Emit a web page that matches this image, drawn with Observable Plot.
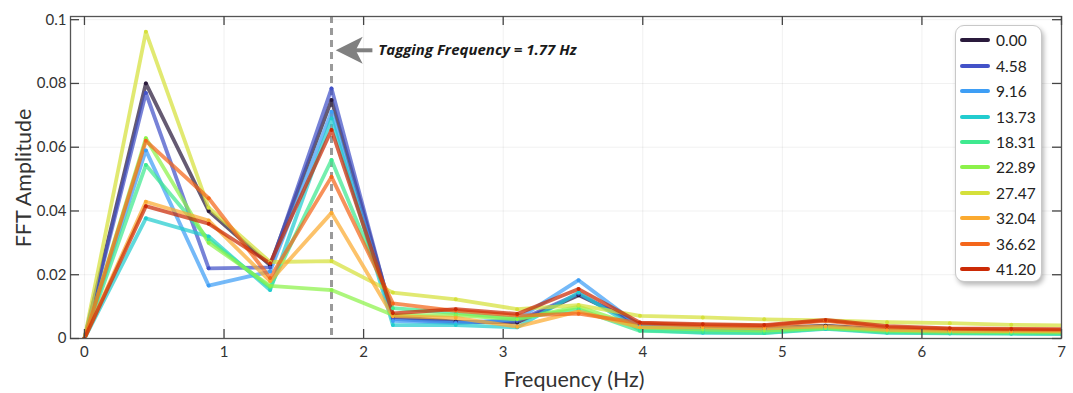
<!DOCTYPE html>
<html><head><meta charset="utf-8">
<script src="https://cdn.jsdelivr.net/npm/d3@7"></script>
<script src="https://cdn.jsdelivr.net/npm/@observablehq/plot@0.6"></script>
<style>
body{margin:0;background:#fff;}
#wrap{position:relative;width:1073px;height:393px;font-family:Lato,sans-serif;}
#legend{position:absolute;left:955px;top:25px;width:87px;height:257px;border:1px solid #c8c8c8;border-radius:9px;box-shadow:2px 3px 5px rgba(0,0,0,0.28);background:#fff;box-sizing:border-box;}
.row{position:absolute;left:0;height:20px;display:flex;align-items:center;}
.sw{width:30px;height:4px;margin-left:4px;border-radius:2px}
.lb{margin-left:6px;font-size:15.5px;color:#222}
.axl{position:absolute;font-size:21.5px;color:#333;white-space:nowrap;line-height:1;}
</style></head><body><div id="wrap"></div>
<script>
const freqs = [0, 0.44, 0.89, 1.33, 1.77, 2.21, 2.66, 3.10, 3.54, 3.98, 4.43, 4.87, 5.31, 5.75, 6.20, 6.64, 7.08];
const speeds = ["0.00","4.58","9.16","13.73","18.31","22.89","27.47","32.04","36.62","41.20"];
const colors = ["#2a1a3c","#4352c8","#3e9ef5","#22cccf","#3fe98f","#8cf24a","#d5e03a","#fbaa30","#f4661b","#cb2a06"];
const amp_000 = [0, 0.0800, 0.0400, 0.0230, 0.0748, 0.0068, 0.0053, 0.0050, 0.0136, 0.0045, 0.0035, 0.0032, 0.0040, 0.0028, 0.0025, 0.0024, 0.0023];
const amp_458 = [0, 0.0770, 0.0220, 0.0223, 0.0784, 0.0062, 0.0050, 0.0055, 0.0140, 0.0040, 0.0030, 0.0028, 0.0035, 0.0025, 0.0022, 0.0021, 0.0020];
const amp_916 = [0, 0.0590, 0.0166, 0.0210, 0.0711, 0.0055, 0.0048, 0.0060, 0.0183, 0.0038, 0.0028, 0.0026, 0.0033, 0.0024, 0.0021, 0.0020, 0.0019];
const amp_1373 = [0, 0.0377, 0.0320, 0.0152, 0.0690, 0.0042, 0.0042, 0.0035, 0.0144, 0.0026, 0.0018, 0.0017, 0.0030, 0.0018, 0.0016, 0.0015, 0.0014];
const amp_1831 = [0, 0.0544, 0.0310, 0.0160, 0.0560, 0.0095, 0.0080, 0.0063, 0.0092, 0.0024, 0.0020, 0.0018, 0.0032, 0.0019, 0.0017, 0.0016, 0.0015];
const amp_2289 = [0, 0.0628, 0.0300, 0.0165, 0.0152, 0.0074, 0.0073, 0.0060, 0.0100, 0.0035, 0.0028, 0.0025, 0.0033, 0.0024, 0.0021, 0.0020, 0.0019];
const amp_2747 = [0, 0.0962, 0.0410, 0.0240, 0.0243, 0.0144, 0.0123, 0.0092, 0.0105, 0.0071, 0.0066, 0.0060, 0.0057, 0.0051, 0.0048, 0.0043, 0.0041];
const amp_3204 = [0, 0.0429, 0.0370, 0.0180, 0.0394, 0.0070, 0.0065, 0.0037, 0.0085, 0.0035, 0.0035, 0.0032, 0.0038, 0.0027, 0.0024, 0.0023, 0.0022];
const amp_3662 = [0, 0.0620, 0.0440, 0.0190, 0.0507, 0.0110, 0.0087, 0.0072, 0.0078, 0.0048, 0.0042, 0.0040, 0.0055, 0.0035, 0.0030, 0.0028, 0.0027];
const amp_4120 = [0, 0.0415, 0.0360, 0.0236, 0.0654, 0.0079, 0.0092, 0.0077, 0.0155, 0.0050, 0.0045, 0.0042, 0.0058, 0.0039, 0.0032, 0.0030, 0.0029];
const xTicks = [0,1,2,3,4,5,6,7];
const yTicks = [0,0.02,0.04,0.06,0.08,0.1];
const xLabel = "Frequency (Hz)";
const yLabel = "FFT Amplitude";
const tagFreq = 1.77;
const tagLabel = "Tagging Frequency = 1.77 Hz";
const tagY = 0.0904;
const tagTextX = 2.105;
const arrowTail = 2.063, arrowNotch = 1.935, arrowTip = 1.80;

const series = [amp_000, amp_458, amp_916, amp_1373, amp_1831, amp_2289, amp_2747, amp_3204, amp_3662, amp_4120];
const rows = [];
series.forEach((vals, i) => vals.forEach((v, j) => rows.push({f: freqs[j], a: v, s: speeds[i]})));

const headSymbol = {draw(ctx){ ctx.moveTo(0,0); ctx.lineTo(27,-13.5); ctx.lineTo(20,0); ctx.lineTo(27,13.5); ctx.closePath(); }};
const yFmt = d => d === 0 ? "0" : (d === 0.1 ? "0.1" : d.toFixed(2));

const plot = Plot.plot({
  width: 1073, height: 393,
  marginLeft: 70, marginRight: 12, marginTop: 16, marginBottom: 55,
  x: {domain: [-0.1, 7]},
  y: {domain: [0, 0.101]},
  color: {domain: speeds, range: colors},
  style: {fontFamily: "Lato, sans-serif", fontSize: "15px", color: "#333", background: "#fff"},
  marks: [
    Plot.gridX(xTicks, {stroke: "#000", strokeOpacity: 0.06}),
    Plot.gridY(yTicks, {stroke: "#000", strokeOpacity: 0.06}),
    Plot.ruleX([tagFreq], {stroke: "#9a9a9a", strokeWidth: 3, strokeDasharray: "7,5"}),
    Plot.line(rows, {x: "f", y: "a", z: "s", stroke: "s", strokeWidth: 3.8, strokeOpacity: 0.72, clip: true}),
    Plot.dot(rows, {x: "f", y: "a", fill: "s", r: 2, clip: true}),
    Plot.link([0], {x1: () => arrowTail, x2: () => arrowNotch, y1: () => tagY, y2: () => tagY, stroke: "#808080", strokeWidth: 4}),
    Plot.dot([0], {x: () => arrowTip, y: () => tagY, symbol: headSymbol, fill: "#808080", stroke: "none"}),
    Plot.text([tagLabel], {x: () => tagTextX, y: () => tagY, text: d => d, textAnchor: "start", fontWeight: "bold", fontStyle: "italic", fontSize: 15, fontFamily: "'Open Sans', sans-serif", fill: "#1a1a1a"}),
    Plot.frame({stroke: "#555", strokeWidth: 1.3}),
    Plot.tickX(xTicks, {x: d => d, stroke: "#444", strokeWidth: 1.3, insetTop: 313}),
    Plot.tickX(xTicks, {x: d => d, stroke: "#444", strokeWidth: 1.3, insetBottom: 313}),
    Plot.tickY(yTicks, {y: d => d, stroke: "#444", strokeWidth: 1.3, insetRight: 982}),
    Plot.tickY(yTicks, {y: d => d, stroke: "#444", strokeWidth: 1.3, insetLeft: 982}),
    Plot.axisX(xTicks, {tickSize: 0, tickPadding: 8, label: null, tickFormat: d => String(d), fontSize: 15, fill: "#333"}),
    Plot.axisY(yTicks, {tickSize: 0, tickPadding: 4, label: null, tickFormat: yFmt, fontSize: 15, fill: "#333"})
  ]
});
const wrap = document.getElementById("wrap");
wrap.appendChild(plot);

const xl = document.createElement("div");
xl.className = "axl"; xl.textContent = xLabel;
xl.style.left = "574px"; xl.style.top = "380px"; xl.style.transform = "translate(-50%,-50%)";
wrap.appendChild(xl);
const yl = document.createElement("div");
yl.className = "axl"; yl.textContent = yLabel;
yl.style.left = "24px"; yl.style.top = "178px"; yl.style.transform = "translate(-50%,-50%) rotate(-90deg)";
wrap.appendChild(yl);

const legend = document.createElement("div");
legend.id = "legend";
speeds.forEach((s, i) => {
  const r = document.createElement("div");
  r.className = "row";
  r.style.top = (4.3 + 25.4 * i) + "px";
  r.innerHTML = `<div class="sw" style="background:${colors[i]}"></div><div class="lb">${s}</div>`;
  legend.appendChild(r);
});
wrap.appendChild(legend);
</script></body></html>
